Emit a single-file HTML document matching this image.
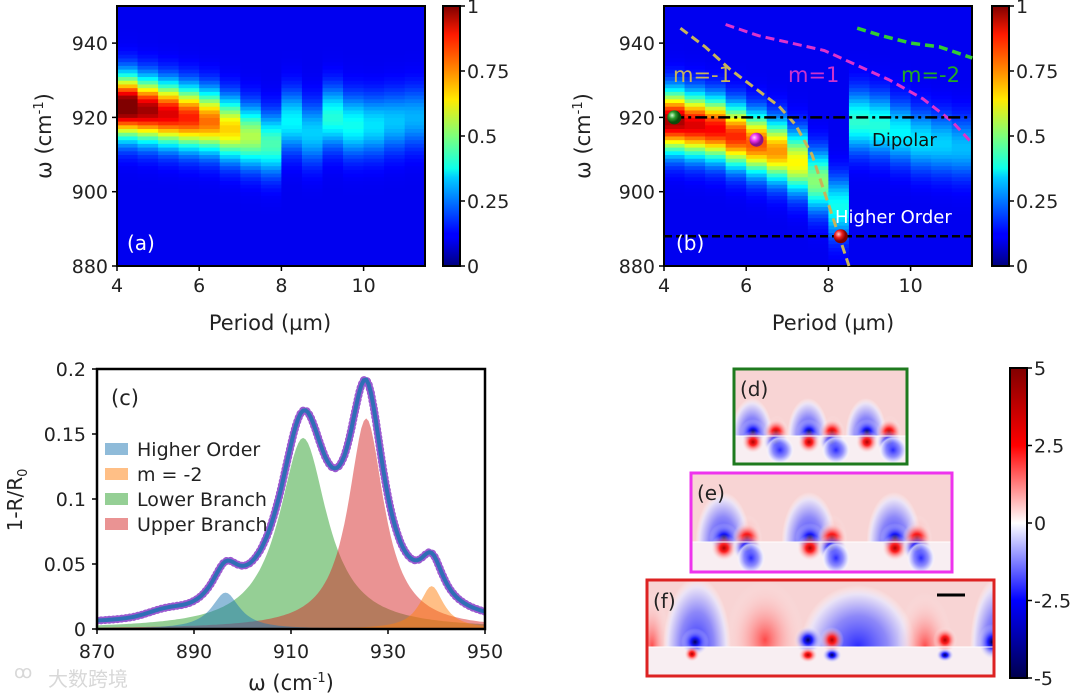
<!DOCTYPE html>
<html><head><meta charset="utf-8">
<style>
html,body{margin:0;padding:0;background:#fff;}
svg{display:block;font-family:"DejaVu Sans","Liberation Sans","Noto Sans CJK SC",sans-serif;}
</style></head>
<body>
<svg id="fig" width="1080" height="696" viewBox="0 0 1080 696" xmlns="http://www.w3.org/2000/svg">
<defs>
<linearGradient id="jetbar" x1="0" y1="1" x2="0" y2="0">
<stop offset="0" stop-color="#00007f"/><stop offset="0.11" stop-color="#0000ff"/><stop offset="0.125" stop-color="#0000ff"/>
<stop offset="0.34" stop-color="#00ccff"/><stop offset="0.375" stop-color="#0dffea"/><stop offset="0.5" stop-color="#7dff7a"/>
<stop offset="0.64" stop-color="#ffea00"/><stop offset="0.75" stop-color="#ff8c00"/><stop offset="0.89" stop-color="#ff1a00"/><stop offset="1" stop-color="#7f0000"/>
</linearGradient>
<linearGradient id="bwrbar" x1="0" y1="1" x2="0" y2="0">
<stop offset="0" stop-color="#00004c"/><stop offset="0.25" stop-color="#0000ff"/><stop offset="0.5" stop-color="#ffffff"/><stop offset="0.75" stop-color="#ff0000"/><stop offset="1" stop-color="#800000"/>
</linearGradient>
<radialGradient id="gB"><stop offset="0" stop-color="#00005a"/><stop offset="0.3" stop-color="#1a1aff"/><stop offset="1" stop-color="#ffffff" stop-opacity="0"/></radialGradient>
<radialGradient id="gR"><stop offset="0" stop-color="#b00000"/><stop offset="0.3" stop-color="#ff2020"/><stop offset="1" stop-color="#ffffff" stop-opacity="0"/></radialGradient>
<radialGradient id="gBs"><stop offset="0" stop-color="#2a2aff" stop-opacity="1"/><stop offset="0.5" stop-color="#7a7aff" stop-opacity="0.85"/><stop offset="0.85" stop-color="#e6e6ff" stop-opacity="0.8"/><stop offset="1" stop-color="#ffffff" stop-opacity="0"/></radialGradient>
<radialGradient id="gRs"><stop offset="0" stop-color="#ff3030" stop-opacity="0.85"/><stop offset="1" stop-color="#ffffff" stop-opacity="0"/></radialGradient>
<radialGradient id="sphG" cx="0.35" cy="0.35"><stop offset="0" stop-color="#cfffcf"/><stop offset="0.5" stop-color="#2a9a2a"/><stop offset="1" stop-color="#0a4a0a"/></radialGradient>
<radialGradient id="sphM" cx="0.35" cy="0.35"><stop offset="0" stop-color="#ffd0ff"/><stop offset="0.5" stop-color="#ee33ee"/><stop offset="1" stop-color="#8a108a"/></radialGradient>
<radialGradient id="sphR" cx="0.35" cy="0.35"><stop offset="0" stop-color="#ffd0d0"/><stop offset="0.5" stop-color="#ee2020"/><stop offset="1" stop-color="#800000"/></radialGradient>
<clipPath id="clipD"><rect x="735" y="370" width="171" height="93"/></clipPath>
<clipPath id="clipE"><rect x="692" y="474" width="259" height="97"/></clipPath>
<clipPath id="clipF"><rect x="648" y="581" width="345" height="94"/></clipPath>
<clipPath id="clipDu"><rect x="735" y="370" width="171" height="66"/></clipPath>
<clipPath id="clipEu"><rect x="692" y="474" width="259" height="68"/></clipPath>
<clipPath id="clipFu"><rect x="648" y="581" width="345" height="66"/></clipPath>
<clipPath id="clipC"><rect x="97" y="369" width="388" height="260"/></clipPath>
</defs>
<g id="root"></g>
</svg>
<script>
// ---------- data ----------
const periods = [4.0,4.5,5.0,5.5,6.0,6.5,7.0,7.5,8.0,8.5,9.0,9.5,10.0,10.5,11.0];
const peakA = [923,922,921,920,919,917,915,913,919,916,920,918,918,919,920];
const ampA  = [0.95,0.86,0.8,0.74,0.66,0.56,0.44,0.34,0.26,0.22,0.3,0.28,0.24,0.21,0.19];
const peakB = [919,918,917,915,913,911,908,903,896,919,918,916,914,913,912];
const ampB  = [0.85,0.8,0.77,0.73,0.68,0.62,0.52,0.4,0.28,0.31,0.3,0.26,0.24,0.22,0.2];
const mMinus1P = [4.4,5.0,5.6,6.2,6.8,7.2,7.6,7.9,8.2,8.5];
const mMinus1W = [944,939,933,928,923,918,910,900,890,880];
const mPlus1P = [5.5,6.3,7.1,7.9,8.7,9.5,10.3,11.0,11.5];
const mPlus1W = [945,942,940,938,934,930,925,919,913];
const mMinus2P = [8.7,9.3,10.0,10.7,11.5];
const mMinus2W = [944,942,940,939,936];
const cbTicks = ["0","0.25","0.5","0.75","1"];
const yTicksW = [880,900,920,940];
const xTicksP = [4,6,8,10];
// spectra (c): Lorentzian centres, amplitudes, half-widths
const compNames = ["Higher Order","m = -2","Lower Branch","Upper Branch"];
const compCenter = [896.5,939,912.5,925.5];
const compAmp = [0.028,0.033,0.147,0.162];
const compHW = [3.5,3.0,6.0,4.5];
const compColor = ["#1f77b4","#ff7f0e","#2ca02c","#d62728"];
const cXTicks = [870,890,910,930,950];
const cYTicks = [0,0.05,0.1,0.15,0.2];
const cYLabels = ["0","0.05","0.1","0.15","0.2"];
const fieldTicks = ["5","2.5","0","-2.5","-5"];

const NS="http://www.w3.org/2000/svg";
const root=document.getElementById('root');
function mk(tag,attrs,parent){const e=document.createElementNS(NS,tag);for(const k in attrs)e.setAttribute(k,attrs[k]);(parent||root).appendChild(e);return e;}
function txt(s,x,y,size,anchor,parent,fill){const t=mk('text',{x:x,y:y,'font-size':size,'text-anchor':anchor||'start',fill:fill||'#222'},parent);t.textContent=s;return t;}

function jet(v){v=Math.max(0,Math.min(1,v));
 const r=Math.max(0,Math.min(1,1.5-Math.abs(4*v-3))),g=Math.max(0,Math.min(1,1.5-Math.abs(4*v-2))),b=Math.max(0,Math.min(1,1.5-Math.abs(4*v-1)));
 return `rgb(${Math.round(r*255)},${Math.round(g*255)},${Math.round(b*255)})`;}

function heatPanel(name,x0,peaks,amps,bg){
 const g=mk('g',{});
 
 
 const xs=p=>x0+(p-4)*41.1, ys=w=>266-(w-880)*3.715;
 for(let i=0;i<periods.length;i++){
  for(let w=880;w<950;w+=1){
   const d=(w+0.5-peaks[i]);
   const v=bg+amps[i]*Math.exp(-d*d/(2*5.5*5.5));
   mk('rect',{x:xs(periods[i]),y:ys(w+1),width:21,height:4.2,fill:jet(v)},g);
  }
 }
 mk('rect',{x:x0,y:6,width:308,height:260,fill:'none',stroke:'#000','stroke-width':2},g);
 yTicksW.forEach(w=>{mk('line',{x1:x0-5,x2:x0,y1:ys(w),y2:ys(w),stroke:'#000','stroke-width':1.5});txt(String(w),x0-9,ys(w)+7,19,'end');});
 xTicksP.forEach(p=>{mk('line',{x1:xs(p),x2:xs(p),y1:266,y2:271,stroke:'#000','stroke-width':1.5});txt(String(p),xs(p),292,19,'middle');});
 return {xs,ys};
}
function colorbar(name,x,y0,y1,grad,labels){
 const r=mk('rect',{x:x,y:y0,width:17,height:y1-y0,fill:`url(#${grad})`,stroke:'#000','stroke-width':2});
 
 
 labels.forEach((l,i)=>{const yy=y1-(y1-y0)*i/(labels.length-1);mk('line',{x1:x+17,x2:x+22,y1:yy,y2:yy,stroke:'#000','stroke-width':1.5});
  const t=txt(l,x+24,yy+7,19,'start');});
}

// ---------- panel a ----------
const A=heatPanel('heatmap-a',117,peakA,ampA,0.11);
txt('(a)',127,250,20,'start',null,'#fff');
colorbar('colorbar-a',443,6,266,'jetbar',cbTicks);
let t=txt('Period (µm)',270,330,21,'middle');
t=mk('text',{x:0,y:0,'font-size':21,'text-anchor':'middle',fill:'#222',transform:'translate(51,136) rotate(-90)'});t.innerHTML='ω (cm<tspan font-size="13" dy="-8">-1</tspan><tspan dy="8">)</tspan>';


// ---------- panel b ----------
const B=heatPanel('heatmap-b',664,peakB,ampB,0.11);
function dashed(name,P,W,color,dash,w){
 const d=P.map((p,i)=>(i?'L':'M')+B.xs(p).toFixed(1)+','+B.ys(W[i]).toFixed(1)).join(' ');
 const e=mk('path',{d:d,fill:'none',stroke:color,'stroke-width':w||3,'stroke-dasharray':dash});
 
}
dashed('m-minus1-curve',mMinus1P,mMinus1W,'#c8b45a','9,5');
dashed('m-plus1-curve',mPlus1P,mPlus1W,'#dd33cc','9,5');
dashed('m-minus2-curve',mMinus2P,mMinus2W,'#33cc33','9,5',3.5);
dashed('dipolar-line',[4.2,11.5],[920,920],'#000','12,4,3,4',2.5);
dashed('higher-order-line',[4.0,11.5],[888,888],'#000','8,4',2.5);
txt('m=-1',673,82,21,'start',null,'#c8b45a');
txt('m=1',788,82,21,'start',null,'#cc33cc');
txt('m=-2',901,82,21,'start',null,'#22aa22');
txt('Dipolar',872,146,18,'start',null,'#111');
txt('Higher Order',835,223,18,'start',null,'#fff');
txt('(b)',676,250,20,'start',null,'#fff');
[[4.25,920,'sphG'],[6.25,914,'sphM'],[8.3,888,'sphR']].forEach((s,i)=>{const c=mk('circle',{cx:B.xs(s[0]),cy:B.ys(s[1]),r:7,fill:`url(#${s[2]})`});});
colorbar('colorbar-b',992,6,266,'jetbar',cbTicks);
t=txt('Period (µm)',833,330,21,'middle');
t=mk('text',{x:0,y:0,'font-size':21,'text-anchor':'middle',fill:'#222',transform:'translate(590,136) rotate(-90)'});t.innerHTML='ω (cm<tspan font-size="13" dy="-8">-1</tspan><tspan dy="8">)</tspan>';


// ---------- panel c ----------
const cx=w=>97+(w-870)*4.85, cy=v=>629-v*1300;
const lor=(k,w)=>compAmp[k]/(1+Math.pow((w-compCenter[k])/compHW[k],2));
const gc=mk('g',{'clip-path':'url(#clipC)'});

[2,3,0,1].forEach(k=>{
 let d='M'+cx(870)+','+cy(0);
 for(let w=870;w<=950;w+=0.5)d+=' L'+cx(w).toFixed(1)+','+cy(lor(k,w)).toFixed(1);
 d+=' L'+cx(950)+','+cy(0)+' Z';
 const p=mk('path',{d:d,fill:compColor[k],'fill-opacity':0.5},gc);
 
 
});
const total=w=>0.002+0.004*Math.exp(-Math.pow((w-884)/5,2))+[0,1,2,3].reduce((s,k)=>s+lor(k,w),0);
let dt='';
for(let w=870;w<=950;w+=0.5)dt+=(w===870?'M':' L')+cx(w).toFixed(1)+','+cy(total(w)).toFixed(1);
const dots=mk('path',{d:dt,fill:'none',stroke:'#9b59d0','stroke-width':8,'stroke-dasharray':'0.1,4','stroke-linecap':'round'},gc);

const fitl=mk('path',{d:dt,fill:'none',stroke:'#2f6fb5','stroke-width':4},gc);

mk('rect',{x:97,y:369,width:388,height:260,fill:'none',stroke:'#000','stroke-width':2.5});
cXTicks.forEach(w=>{mk('line',{x1:cx(w),x2:cx(w),y1:629,y2:634,stroke:'#000','stroke-width':1.5});txt(String(w),cx(w),658,19,'middle');});
cYTicks.forEach((v,i)=>{mk('line',{x1:92,x2:97,y1:cy(v),y2:cy(v),stroke:'#000','stroke-width':1.5});txt(cYLabels[i],86,cy(v)+7,19,'end');});
txt('(c)',111,405,21,'start');
compNames.forEach((n,i)=>{const yy=449+i*25;
 const r=mk('rect',{x:105,y:yy-6,width:23,height:12,fill:compColor[i],'fill-opacity':0.5});
 const l=txt(n,137,yy+7,19,'start');});
t=mk('text',{x:0,y:0,'font-size':21,'text-anchor':'middle',fill:'#222'});t.setAttribute('x',291);t.setAttribute('y',690);t.innerHTML='ω (cm<tspan font-size="13" dy="-8">-1</tspan><tspan dy="8">)</tspan>';

t=mk('text',{x:0,y:0,'font-size':20,'text-anchor':'middle',fill:'#222',transform:'translate(22,500) rotate(-90)'});t.innerHTML='1-R/R<tspan font-size="13" dy="5">0</tspan>';

t=txt('大数跨境',48,686,20,'start',null,'#d8d8d8');
t=txt('ꝏ',14,678,18,'start',null,'#d8d8d8');

// ---------- field maps d,e,f ----------
// blob: [cx, cy, rx, ry, gradient, upperOnly]
function field(name,clip,box,color,iy,blobs){
 const g=mk('g',{'clip-path':`url(#${clip})`});
 
 mk('rect',{x:box[0],y:box[1],width:box[2],height:iy-box[1],fill:'#f8d4d4'},g);
 mk('rect',{x:box[0],y:iy,width:box[2],height:box[1]+box[3]-iy,fill:'#f8eef2'},g);
 const gu=mk('g',{'clip-path':`url(#${clip}u)`},g);
 blobs.forEach(b=>mk('ellipse',{cx:b[0],cy:b[1],rx:b[2],ry:b[3],fill:`url(#${b[4]})`},b[5]?gu:g));
 mk('line',{x1:box[0],x2:box[0]+box[2],y1:iy,y2:iy,stroke:'#ffffff','stroke-width':1},g);
 const fr=mk('rect',{x:box[0]-1,y:box[1]-1,width:box[2]+2,height:box[3]+2,fill:'none',stroke:color,'stroke-width':3});
 
}
function pairs(iy,xs,up,dn,c){const out=[];xs.forEach(p=>{out.push([p[0]-1,iy,up*0.55,up,'gBs',1],[p[1]+1,iy,up*0.3,up*0.55,'gRs',1],[p[0],iy-4,c,c,'gB'],[p[1],iy-4,c,c,'gR'],[p[0],iy+6,c*0.9,c*0.9,'gR'],[p[1],iy+6,c,c*0.9,'gB'],[p[1]+4,iy+dn,14,dn,'gBs']);});return out;}
field('field-map-d','clipD',[735,370,171,93],'#1e7a1e',436,pairs(436,[[753,776],[809,832],[867,889]],38,14,13));
field('field-map-e','clipE',[692,474,259,97],'#ee33ee',542,pairs(542,[[724,747],[810,832],[895,917]],50,16,15));
field('field-map-f','clipF',[648,581,345,94],'#dd2222',647,[
 [652,647,18,55,'gRs',1],[697,647,34,70,'gBs',1],[695,642,14,14,'gB'],[692,654,8,8,'gR'],
 [765,640,40,60,'gRs',1],[858,647,58,62,'gBs',1],[808,640,14,14,'gB'],[832,640,12,13,'gR'],[808,655,10,8,'gR'],[832,655,10,8,'gB'],
 [925,647,28,55,'gRs',1],[945,640,12,13,'gR'],[945,655,9,7,'gB'],[998,647,28,70,'gBs',1],[992,642,14,18,'gB']]);
txt('(d)',740,396,20,'start');
txt('(e)',697,500,20,'start');
txt('(f)',653,608,20,'start');
const sb=mk('line',{x1:937,x2:965,y1:595,y2:595,stroke:'#000','stroke-width':3});
colorbar('colorbar-field',1010,368,678,'bwrbar',fieldTicks.slice().reverse());
</script>
</body></html>
